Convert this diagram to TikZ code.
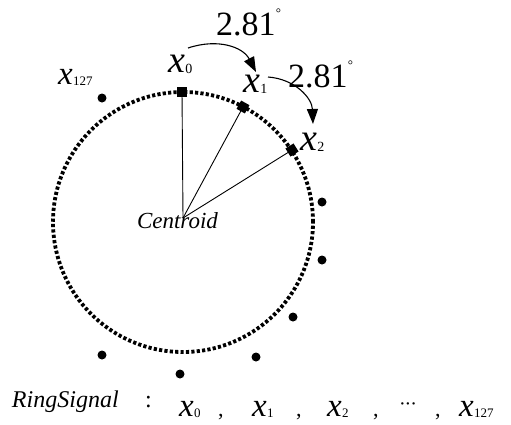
\documentclass[tikz,border=0pt]{standalone}
\usepackage{fontspec}
\setmainfont{Liberation Serif}
\usetikzlibrary{arrows.meta}
\newcommand\xlab[3]{{\fontsize{#2}{#2}\selectfont\itshape x}\kern0.5pt\raisebox{-1.5pt}{\fontsize{#3}{#3}\selectfont #1}}
\begin{document}
\begin{tikzpicture}[x=1pt,y=-1pt,
  ring/.style={line width=3.8pt, dash pattern=on 3.2pt off 2.2pt},
  sq/.style={fill=black, draw=none, minimum size=9.5pt, inner sep=0pt, shape=rectangle},
  dotmark/.style={circle, fill=black, draw=none, minimum size=9pt, inner sep=0pt},
  txt/.style={anchor=base west, inner sep=0pt, outer sep=0pt},
  spoke/.style={line width=0.9pt},
  curvearrow/.style={line width=1.1pt, -{Triangle[length=15pt,width=11pt]}},
  deg/.style={anchor=north, inner sep=0pt, font=\fontsize{13}{13}\selectfont}]
\useasboundingbox (0,0) rectangle (511,424);
\fill[white] (0,0) rectangle (511,424);
% ring
\coordinate (c) at (183,222);
\draw[ring] (c) circle (130pt);
% centroid
\coordinate (cen) at (183,218);
\node[txt, font=\fontsize{23}{23}\selectfont\itshape] (centroid) at (137,228) {Centroid};
% points on ring
\node[sq] (p0) at (182,92) {};
\node[sq, rotate=-29] (p1) at (243,107) {};
\node[sq, rotate=-58] (p2) at (292,150) {};
\draw[spoke] (cen) -- (p0.center);
\draw[spoke] (cen) -- (p1.center);
\draw[spoke] (cen) -- (p2.center);
% outer dots
\node[dotmark] (d0) at (102,98) {};
\node[dotmark] (d1) at (322,202) {};
\node[dotmark] (d2) at (322,260) {};
\node[dotmark] (d3) at (293,317) {};
\node[dotmark] (d4) at (256,357) {};
\node[dotmark] (d5) at (180,374) {};
\node[dotmark] (d6) at (102,355) {};
% labels on ring
\node[txt] (l0) at (168,72) {\xlab{0}{38}{14}};
\node[txt] (l1) at (243,92) {\xlab{1}{38}{14}};
\node[txt] (l2) at (300,150) {\xlab{2}{38}{14}};
\node[txt] (l127) at (58,84) {\xlab{127}{33}{13}};
% angle labels
\node[txt, font=\fontsize{34}{34}\selectfont] (a1) at (216,35) {2.81};
\node[deg] (a1d) at (a1.north east) [yshift=4pt, xshift=3pt] {\textdegree};
\node[txt, font=\fontsize{34}{34}\selectfont] (a2) at (288,87) {2.81};
\node[deg] (a2d) at (a2.north east) [yshift=4pt, xshift=3pt] {\textdegree};
% arrows
\coordinate (s1) at (188,48);
\coordinate (e1) at (256,72);
\draw[curvearrow] (s1) .. controls (218,38) and (243,47) .. (e1);
\coordinate (s2) at (268,77);
\coordinate (e2) at (313,124);
\draw[curvearrow] (s2) .. controls (295,79) and (312,98) .. (e2);
% bottom row
\node[txt, font=\fontsize{24}{24}\selectfont\itshape] (rs) at (12,407) {RingSignal};
\node[txt, font=\fontsize{24}{24}\selectfont] (colon) at (145,407) {:};
\node[txt] (b0) at (179,416) {\xlab{0}{33}{13}};
\node[txt, font=\fontsize{22}{22}\selectfont] (c1) at (218,416) {,};
\node[txt] (b1) at (252,416) {\xlab{1}{33}{13}};
\node[txt, font=\fontsize{22}{22}\selectfont] (c2) at (296,416) {,};
\node[txt] (b2) at (327,416) {\xlab{2}{33}{13}};
\node[txt, font=\fontsize{22}{22}\selectfont] (c3) at (373,416) {,};
\node[txt, font=\fontsize{20}{20}\selectfont] (dots) at (399,410) {\textperiodcentered\kern-1pt\textperiodcentered\kern-1pt\textperiodcentered};
\node[txt, font=\fontsize{22}{22}\selectfont] (c4) at (435,416) {,};
\node[txt] (b127) at (459,416) {\xlab{127}{33}{13}};
\end{tikzpicture}
\end{document}
